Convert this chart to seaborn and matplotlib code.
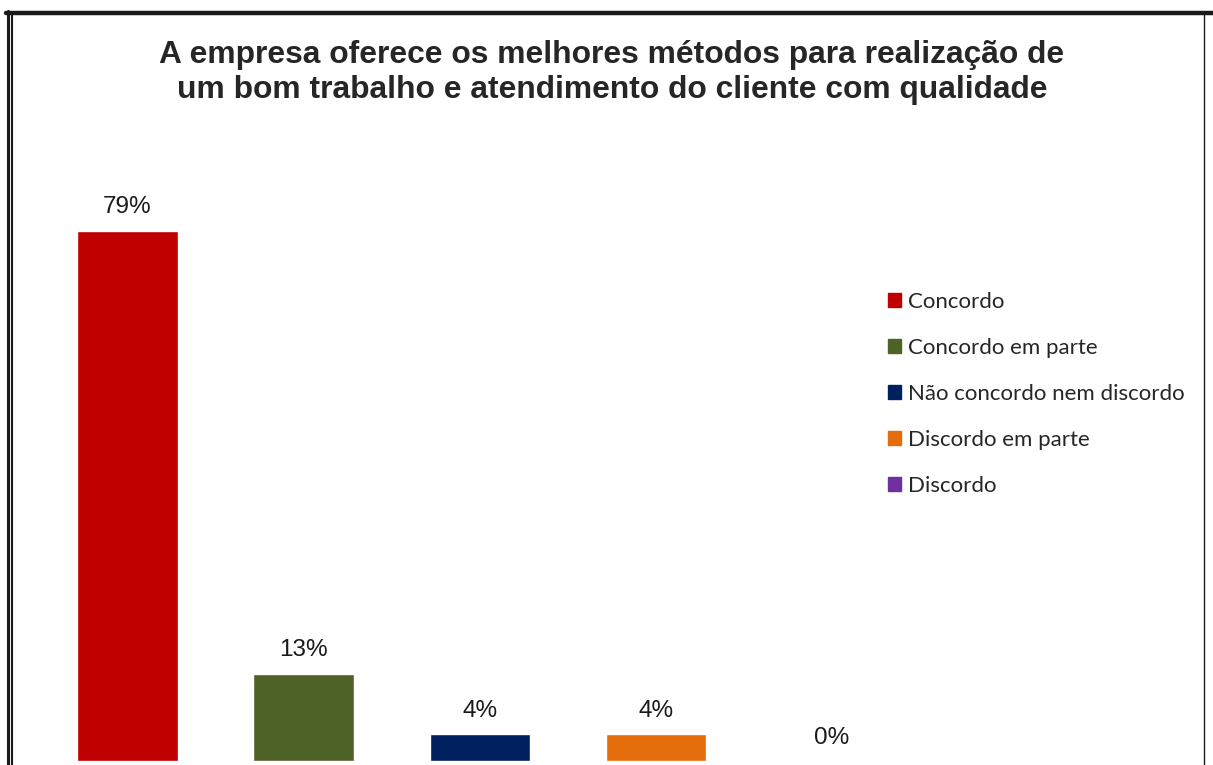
import matplotlib
matplotlib.use("Agg")
import matplotlib.pyplot as plt
from matplotlib.lines import Line2D
import seaborn as sns

categories = ["Concordo", "Concordo em parte", "Não concordo nem discordo",
              "Discordo em parte", "Discordo"]
values = [79, 13, 4, 4, 0]
colors = ["#C00000", "#4F6228", "#002060", "#E46C0A", "#7030A0"]
title = ("A empresa oferece os melhores métodos para realização de\n"
         "um bom trabalho e atendimento do cliente com qualidade")

W, H = 1213, 765
sns.set_style("white")
fig = plt.figure(figsize=(W / 100, H / 100), dpi=100)
fig.patch.set_facecolor("white")

# plot area in pixel terms: y=0 at 761px, category centres ~176px apart
ax = fig.add_axes([39.5 / W, 4 / H, 880.5 / W, 561 / H])
sns.barplot(x=categories, y=values, hue=categories, palette=colors,
            width=0.57, dodge=False, legend=False, ax=ax, saturation=1)
ax.set_xlim(-0.5, 4.5)
ax.set_ylim(0, 561 / 6.71)
ax.axis("off")

for i, v in enumerate(values):
    ax.annotate(f"{v}%", (i, v), xytext=(0, 9), textcoords="offset points",
                ha="center", va="bottom", fontsize=17.5,
                family="Liberation Sans", color="#1a1a1a")

fig.text(0.5045, 1 - 72.5 / H, title, ha="center", va="center",
         fontsize=22.9, fontweight="bold", family="Liberation Sans",
         linespacing=1.2)

handles = [plt.Rectangle((0, 0), 1, 1, color=c) for c in colors]
fig.legend(handles, categories, loc="center left",
           bbox_to_anchor=(877 / W, 1 - 394 / H), frameon=False,
           borderpad=0, handlelength=0.6, handleheight=0.6,
           handletextpad=0.3, labelspacing=1.17,
           prop={"family": "Lato", "size": 16})

# double frame like the pasted chart border
def px_line(xs, ys, lw):
    fig.add_artist(Line2D([x / W for x in xs], [1 - y / H for y in ys],
                          transform=fig.transFigure, color="#1a1a1a", lw=lw))

px_line([6, W], [13, 13], 3.2)
px_line([7.5, 7.5], [11, H], 2.2)
px_line([11.5, 11.5], [14, H], 1.5)
px_line([1204, 1204], [13, H], 1.0)

fig.savefig("out.png", dpi=100, facecolor="white")
